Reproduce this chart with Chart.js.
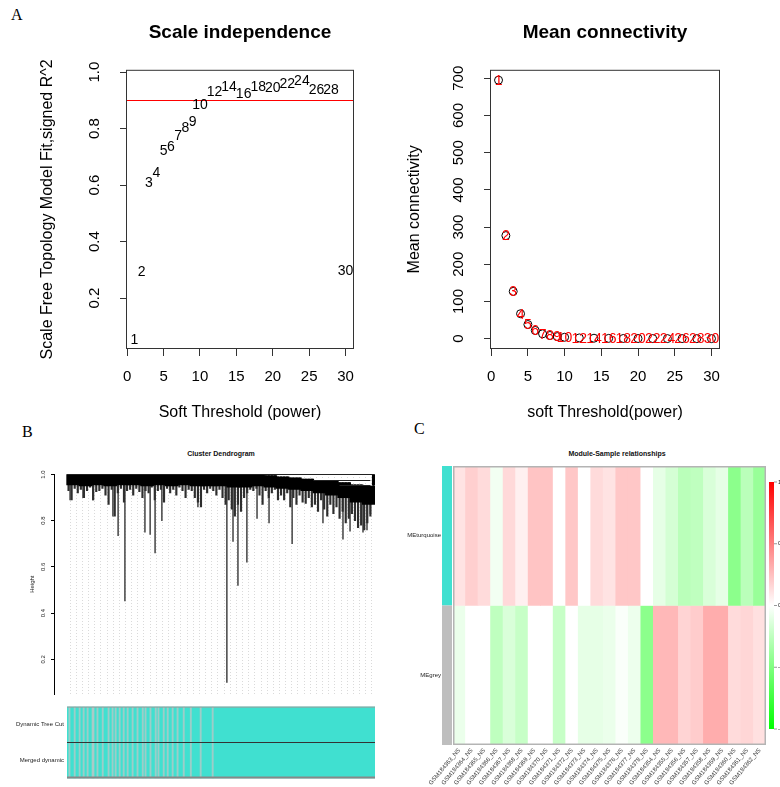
<!DOCTYPE html>
<html>
<head>
<meta charset="utf-8">
<title>WGCNA network construction</title>
<script src="https://cdn.jsdelivr.net/npm/chart.js@4"></script>
<style>
  body { margin: 0; background: #fff; }
  #page { position: relative; width: 780px; height: 787px; overflow: hidden; font-family: "Liberation Sans", Arial, sans-serif; }
  canvas { position: absolute; }
  .tag { position: absolute; font-family: "Liberation Serif", "Times New Roman", serif; font-size: 16px; line-height: 16px; color: #000; }
  .mini-title { position: absolute; font-weight: bold; font-size: 7px; line-height: 8px; transform: translateX(-50%); white-space: nowrap; color: #111; }
</style>
</head>
<body>
<div id="page">
  <div class="tag" style="left:11px; top:7px;">A</div>
  <div class="tag" style="left:22px; top:424px;">B</div>
  <div class="tag" style="left:414px; top:421px;">C</div>
  <div class="mini-title" style="left:221px; top:450px;">Cluster Dendrogram</div>
  <div class="mini-title" style="left:617px; top:450px;">Module-Sample relationships</div>

  <canvas id="scaleFit" width="390" height="430" style="left:0; top:0;"></canvas>
  <canvas id="meanConn" width="390" height="430" style="left:390px; top:0;"></canvas>
  <canvas id="dendro" width="390" height="241" style="left:0; top:460px;"></canvas>
  <canvas id="colorRows" width="390" height="85" style="left:0; top:700px;"></canvas>
  <canvas id="heat" width="380" height="347" style="left:400px; top:440px;"></canvas>
</div>

<script>
// ---- soft threshold scan ----
const powers = [1, 2, 3, 4, 5, 6, 7, 8, 9, 10, 12, 14, 16, 18, 20, 22, 24, 26, 28, 30];
const fitR2 = [0.056, 0.296, 0.609, 0.646, 0.722, 0.739, 0.777, 0.806, 0.828, 0.885,
               0.933, 0.950, 0.926, 0.950, 0.947, 0.961, 0.971, 0.941, 0.938, 0.299];
const meanK = [695, 277, 127, 67, 38, 22, 13, 8.5, 5.5, 3.8,
               2.0, 1.2, 0.8, 0.5, 0.35, 0.25, 0.2, 0.15, 0.1, 0.08];
const r2Cutoff = 0.9;
const powerTicks = [0, 5, 10, 15, 20, 25, 30];
const r2Ticks = [0.2, 0.4, 0.6, 0.8, 1.0];
const kTicks = [0, 100, 200, 300, 400, 500, 600, 700];

// ---- gene dendrogram (leaf order 0..100) ----
const heightTicks = [0.2, 0.4, 0.6, 0.8, 1.0];
// solid upper mass per block of 4 leaves: [lower edge, upper edge]
const coreBand = [
  [0.955, 1], [0.95, 1], [0.955, 1], [0.95, 1], [0.955, 1], [0.955, 1], [0.95, 1], [0.955, 1],
  [0.95, 1], [0.955, 1], [0.95, 1], [0.95, 1], [0.95, 1], [0.945, 1], [0.945, 1], [0.95, 1],
  [0.945, 0.995], [0.94, 0.99], [0.935, 0.985], [0.93, 0.98], [0.92, 0.975], [0.91, 0.97],
  [0.90, 0.965], [0.88, 0.955], [0.87, 0.95]
];
// lowest tip of the branches under each leaf
const branchLow = [
  0.93, 0.89, 0.94, 0.92, 0.935, 0.90, 0.93, 0.945, 0.89, 0.925,
  0.93, 0.94, 0.91, 0.87, 0.935, 0.82, 0.92, 0.94, 0.88, 0.93,
  0.935, 0.91, 0.94, 0.925, 0.90, 0.93, 0.92, 0.945, 0.89, 0.93,
  0.935, 0.88, 0.94, 0.92, 0.935, 0.91, 0.945, 0.93, 0.90, 0.935,
  0.93, 0.90, 0.88, 0.86, 0.935, 0.92, 0.94, 0.93, 0.91, 0.935,
  0.90, 0.87, 0.89, 0.85, 0.82, 0.87, 0.84, 0.90, 0.92, 0.935,
  0.93, 0.94, 0.91, 0.87, 0.93, 0.90, 0.92, 0.935, 0.89, 0.91,
  0.89, 0.92, 0.86, 0.90, 0.87, 0.91, 0.88, 0.875, 0.90, 0.86,
  0.87, 0.84, 0.89, 0.85, 0.82, 0.87, 0.83, 0.86, 0.81, 0.84,
  0.79, 0.81, 0.83, 0.80, 0.77, 0.78, 0.76, 0.79, 0.82, 0.955
];
// single long branches: [leaf position, merge height]
const dendroSpikes = [
  [1.0, 0.89], [5.2, 0.90], [8.4, 0.89], [14.9, 0.82], [16.6, 0.735], [18.8, 0.453],
  [25.3, 0.75], [27.0, 0.74], [28.6, 0.66], [30.8, 0.80], [42.5, 0.86], [51.9, 0.10],
  [53.9, 0.71], [55.5, 0.52], [58.4, 0.62], [61.7, 0.81], [65.6, 0.79], [73.1, 0.70],
  [83.1, 0.79], [89.6, 0.72], [91.9, 0.755], [96.1, 0.75], [97.4, 0.76], [98.5, 0.83]
];
// horizontal merges: [from leaf, to leaf, height]
const dendroLinks = [[0, 99.7, 1.0], [80, 98.5, 0.975], [88.5, 98.5, 0.955]];
const terminalBranch = [99.6, 0.955, 1.0];

// ---- module colour rows ----
const colorRowNames = ['Dynamic Tree Cut', 'Merged dynamic'];
const greyStripes = [0.6, 2.3, 3.9, 5.2, 6.5, 8.1, 8.4, 9.7, 11.4, 13.3, 14.6, 15.6, 16.9, 18.2, 19.5,
                     21.1, 22.7, 24.4, 25.3, 26.9, 28.6, 29.5, 31.2, 32.5, 34.1, 35.7, 37.7, 40.0, 43.2, 47.1];

// ---- module / sample correlation ----
const sampleNames = ['GSM184363_NS', 'GSM184364_NS', 'GSM184365_NS', 'GSM184366_NS', 'GSM184367_NS',
  'GSM184368_NS', 'GSM184369_NS', 'GSM184370_NS', 'GSM184371_NS', 'GSM184372_NS', 'GSM184373_NS',
  'GSM184374_NS', 'GSM184375_NS', 'GSM184376_NS', 'GSM184377_NS', 'GSM184378_NS', 'GSM184354_NS',
  'GSM184355_NS', 'GSM184356_NS', 'GSM184357_NS', 'GSM184358_NS', 'GSM184359_NS', 'GSM184360_NS',
  'GSM184361_NS', 'GSM184362_NS'];
const rowNames = ['MEturquoise', 'MEgrey'];
const rowColors = ['#40E0D0', '#BEBEBE'];
const meTurquoise = [0.11, 0.19, 0.14, -0.05, 0.15, 0.06, 0.23, 0.23, 0, 0.22, 0, 0.14, 0.11,
                     0.22, 0.22, 0, -0.1, -0.17, -0.27, -0.25, -0.15, -0.1, -0.45, -0.27, -0.4];
const meGrey = [-0.08, 0, 0, -0.25, -0.15, -0.22, 0, 0, -0.22, 0, -0.1, -0.1, -0.08,
                -0.02, -0.07, -0.45, 0.28, 0.28, 0.17, 0.2, 0.32, 0.32, 0.14, 0.16, 0.12];
const keyTicks = [1, 0.5, 0, -0.5, -1];

Chart.defaults.font.family = '"Liberation Sans", Arial, Helvetica, sans-serif';
Chart.defaults.color = '#000';
Chart.defaults.animation = false;
Chart.defaults.plugins.legend.display = false;
Chart.defaults.plugins.tooltip.enabled = false;

const fixedTicks = values => scale => { scale.ticks = values.map(v => ({ value: v })); };
const fixedWidth = w => scale => { scale.width = w; };
const fixedHeight = h => scale => { scale.height = h; };

// green - white - red, as in greenWhiteRed()
function corColor(v) {
  const c = Math.round(255 * (1 - Math.abs(v)));
  return v >= 0 ? `rgb(255,${c},${c})` : `rgb(${c},255,${c})`;
}

const frame = {
  id: 'frame',
  afterDatasetsDraw(chart, args, opts) {
    const { ctx, chartArea: a } = chart;
    ctx.save();
    ctx.strokeStyle = opts.color || '#333';
    ctx.lineWidth = opts.width || 1;
    ctx.strokeRect(a.left + 0.5, a.top + 0.5, a.width - 1, a.height - 1);
    ctx.restore();
  }
};

const cutoffLine = {
  id: 'cutoffLine',
  afterDatasetsDraw(chart, args, opts) {
    const { ctx, chartArea: a, scales: { y } } = chart;
    const py = Math.round(y.getPixelForValue(opts.value)) + 0.5;
    ctx.save();
    ctx.strokeStyle = '#FF0000';
    ctx.lineWidth = 1;
    ctx.beginPath();
    ctx.moveTo(a.left, py);
    ctx.lineTo(a.right, py);
    ctx.stroke();
    ctx.restore();
  }
};

// power numbers written at each point
const powerLabels = {
  id: 'powerLabels',
  afterDatasetsDraw(chart, args, opts) {
    const { ctx } = chart;
    const meta = chart.getDatasetMeta(0);
    ctx.save();
    ctx.font = '14px "Liberation Sans", Arial, sans-serif';
    ctx.fillStyle = opts.color;
    ctx.textAlign = 'center';
    ctx.textBaseline = 'middle';
    meta.data.forEach((el, i) => ctx.fillText(String(powers[i]), el.x, el.y + 1));
    ctx.restore();
  }
};

const axisX = (title, pad) => ({
  min: -0.16, max: 31.16,
  afterBuildTicks: fixedTicks(powerTicks),
  afterFit: fixedHeight(81),
  ticks: { font: { size: 15 }, padding: 12, maxRotation: 0 },
  grid: { drawOnChartArea: false, tickLength: 7, color: '#333' },
  border: { display: false },
  title: { display: true, text: title, font: { size: 16 }, padding: { top: 0, bottom: pad } }
});

// Scale independence
new Chart(document.getElementById('scaleFit'), {
  type: 'scatter',
  data: { datasets: [{ data: powers.map((p, i) => ({ x: p, y: fitR2[i] })), pointRadius: 0 }] },
  options: {
    responsive: false,
    layout: { padding: { top: 0, right: 36, bottom: 0, left: 0 } },
    plugins: {
      title: { display: true, text: 'Scale independence', fullSize: false, color: '#000',
               font: { size: 19, weight: 'bold' }, padding: { top: 21, bottom: 26 } },
      cutoffLine: { value: r2Cutoff },
      powerLabels: { color: '#000' },
      frame: { color: '#333' }
    },
    scales: {
      x: axisX('Soft Threshold (power)', 8),
      y: {
        min: 0.02, max: 1.008,
        afterBuildTicks: fixedTicks(r2Ticks),
        afterFit: fixedWidth(126),
        ticks: { font: { size: 15 }, padding: 15, minRotation: 90, maxRotation: 90, crossAlign: 'center',
                 callback: v => v.toFixed(1) },
        grid: { drawOnChartArea: false, tickLength: 6, color: '#333' },
        border: { display: false },
        title: { display: true, text: 'Scale Free Topology Model Fit,signed R^2', font: { size: 16 },
                 padding: { top: 38, bottom: 0 } }
      }
    }
  },
  plugins: [cutoffLine, powerLabels, frame]
});

// Mean connectivity
new Chart(document.getElementById('meanConn'), {
  type: 'scatter',
  data: { datasets: [{ data: powers.map((p, i) => ({ x: p, y: meanK[i] })),
                       pointRadius: 4, pointBorderColor: '#000', pointBorderWidth: 1,
                       pointBackgroundColor: 'rgba(0,0,0,0)' }] },
  options: {
    responsive: false,
    layout: { padding: { top: 0, right: 60, bottom: 0, left: 0 } },
    plugins: {
      title: { display: true, text: 'Mean connectivity', fullSize: false, color: '#000',
               font: { size: 19, weight: 'bold' }, padding: { top: 21, bottom: 26 } },
      powerLabels: { color: '#FF0000' },
      frame: { color: '#333' }
    },
    scales: {
      x: axisX('soft Threshold(power)', 8),
      y: {
        min: -27.8, max: 722.8,
        afterBuildTicks: fixedTicks(kTicks),
        afterFit: fixedWidth(100),
        ticks: { font: { size: 15 }, padding: 13, minRotation: 90, maxRotation: 90, crossAlign: 'center' },
        grid: { drawOnChartArea: false, tickLength: 6, color: '#333' },
        border: { display: false },
        title: { display: true, text: 'Mean connectivity', font: { size: 16 }, padding: { top: 15, bottom: 0 } }
      }
    }
  },
  plugins: [powerLabels, frame]
});

// Cluster dendrogram
const linkLines = {
  id: 'linkLines',
  afterDatasetsDraw(chart) {
    const { ctx, scales: { x, y } } = chart;
    ctx.save();
    ctx.strokeStyle = '#222';
    ctx.lineWidth = 1;
    dendroLinks.forEach(([from, to, h]) => {
      const py = Math.round(y.getPixelForValue(h)) + 0.5;
      ctx.beginPath();
      ctx.moveTo(x.getPixelForValue(from), py);
      ctx.lineTo(x.getPixelForValue(to), py);
      ctx.stroke();
    });
    ctx.restore();
  }
};

const guideLeaves = [];
for (let g = 1; g < 100; g += 2) guideLeaves.push(g);

// dataset 0 is painted last, so the solid mass sits over the thin branches
new Chart(document.getElementById('dendro'), {
  type: 'bar',
  data: {
    datasets: [
      { data: coreBand.map((b, k) => ({ x: 4 * k + 2, y: b })),
        backgroundColor: '#000', barThickness: 13, grouped: false },
      { data: [{ x: terminalBranch[0], y: [terminalBranch[1], terminalBranch[2]] }],
        backgroundColor: '#000', barThickness: 3, grouped: false },
      { data: branchLow.map((low, i) => ({ x: i + 0.5, y: [low, coreBand[Math.floor(i / 4)][1]] })),
        backgroundColor: '#2e2e2e', barThickness: 1.5, grouped: false },
      { data: dendroSpikes.map(([leaf, h]) => ({ x: leaf, y: [h, coreBand[Math.floor(leaf / 4)][1] - 0.01] })),
        backgroundColor: '#555', barThickness: 1, grouped: false }
    ]
  },
  options: {
    responsive: false,
    layout: { padding: { top: 14, right: 15, bottom: 1, left: 0 } },
    scales: {
      x: {
        type: 'linear', min: -4.22, max: 100, offset: false,
        afterBuildTicks: fixedTicks(guideLeaves),
        afterFit: fixedHeight(0),
        ticks: { display: false },
        grid: { offset: false, drawTicks: false, color: '#dadada', lineWidth: 1 },
        border: { display: false, dash: [1, 2] }
      },
      y: {
        min: 0.048, max: 1.002,
        afterBuildTicks: fixedTicks(heightTicks),
        afterFit: fixedWidth(54),
        ticks: { font: { size: 6 }, padding: 3, minRotation: 90, maxRotation: 90, crossAlign: 'center',
                 color: '#222', callback: v => v.toFixed(1) },
        grid: { drawOnChartArea: false, tickLength: 3, color: '#000' },
        border: { display: true, color: '#000', width: 1 },
        title: { display: true, text: 'Height', font: { size: 6 }, color: '#222', padding: { top: 29, bottom: 0 } }
      }
    }
  },
  plugins: [linkLines]
});

// Dynamic tree cut / merged module colours
const rowFrame = {
  id: 'rowFrame',
  afterDatasetsDraw(chart) {
    const { ctx, chartArea: a } = chart;
    const mid = Math.round((a.top + a.bottom) / 2) + 0.5;
    ctx.save();
    ctx.lineWidth = 1;
    ctx.strokeStyle = '#9a9a9a';
    ctx.beginPath(); ctx.moveTo(a.left, a.top + 0.5); ctx.lineTo(a.right, a.top + 0.5); ctx.stroke();
    ctx.strokeStyle = '#333';
    ctx.beginPath(); ctx.moveTo(a.left, mid); ctx.lineTo(a.right, mid); ctx.stroke();
    ctx.lineWidth = 2;
    ctx.strokeStyle = '#888';
    ctx.beginPath(); ctx.moveTo(a.left, a.bottom - 1); ctx.lineTo(a.right, a.bottom - 1); ctx.stroke();
    ctx.restore();
  }
};

new Chart(document.getElementById('colorRows'), {
  type: 'bar',
  data: {
    labels: colorRowNames,
    datasets: [
      { data: colorRowNames.flatMap(r => greyStripes.map(p => ({ y: r, x: [p, p + 0.4] }))),
        backgroundColor: 'rgba(196,196,196,0.7)', grouped: false, barPercentage: 1, categoryPercentage: 1 },
      { data: colorRowNames.map(r => ({ y: r, x: [0, 100] })), backgroundColor: '#40E0D0',
        grouped: false, barPercentage: 1, categoryPercentage: 1 }
    ]
  },
  options: {
    indexAxis: 'y',
    responsive: false,
    layout: { padding: { top: 3, right: 15, bottom: 5, left: 0 } },
    scales: {
      x: { type: 'linear', min: 0, max: 100, display: false, offset: false },
      y: { afterFit: fixedWidth(67), ticks: { font: { size: 6 }, padding: 3, color: '#222' },
           grid: { display: false, drawTicks: false }, border: { display: false } }
    }
  },
  plugins: [rowFrame]
});

// Module-sample heatmap with module strip and colour key
const heatDecor = {
  id: 'heatDecor',
  afterDatasetsDraw(chart) {
    const { ctx, chartArea: a, scales: { y } } = chart;
    ctx.save();
    rowNames.forEach((name, r) => {
      const top = y.getPixelForValue(2 - r);
      const bottom = y.getPixelForValue(1 - r);
      ctx.fillStyle = rowColors[r];
      ctx.fillRect(a.left - 11, top, 10, bottom - top);
    });
    ctx.strokeStyle = '#b4b4b4';
    ctx.lineWidth = 1.5;
    ctx.strokeRect(a.left + 0.75, a.top + 0.75, a.width - 1.5, a.height - 1.5);

    const kx = a.right + 3, kTop = a.top + 16, kBottom = a.bottom - 16;
    const grad = ctx.createLinearGradient(0, kTop, 0, kBottom);
    grad.addColorStop(0, corColor(1));
    grad.addColorStop(0.5, corColor(0));
    grad.addColorStop(1, corColor(-1));
    ctx.fillStyle = grad;
    ctx.fillRect(kx, kTop, 5, kBottom - kTop);
    ctx.strokeStyle = '#999';
    ctx.lineWidth = 1;
    ctx.font = '6px "Liberation Sans", Arial, sans-serif';
    ctx.fillStyle = '#222';
    ctx.textBaseline = 'middle';
    keyTicks.forEach(t => {
      const ty = kTop + (1 - t) / 2 * (kBottom - kTop);
      ctx.beginPath(); ctx.moveTo(kx + 5, ty); ctx.lineTo(kx + 8, ty); ctx.stroke();
      ctx.fillText(String(t), kx + 9, ty);
    });
    ctx.restore();
  }
};

new Chart(document.getElementById('heat'), {
  type: 'bar',
  data: {
    labels: sampleNames,
    datasets: [
      { label: rowNames[0], data: sampleNames.map(() => [1, 2]), backgroundColor: meTurquoise.map(corColor),
        grouped: false, barPercentage: 1, categoryPercentage: 1, borderWidth: 0 },
      { label: rowNames[1], data: sampleNames.map(() => [0, 1]), backgroundColor: meGrey.map(corColor),
        grouped: false, barPercentage: 1, categoryPercentage: 1, borderWidth: 0 }
    ]
  },
  options: {
    responsive: false,
    layout: { padding: { top: 26, right: 14, bottom: 0, left: 0 } },
    scales: {
      x: { afterFit: fixedHeight(42),
           ticks: { font: { size: 6 }, minRotation: 50, maxRotation: 50, autoSkip: false, padding: 2, color: '#333' },
           grid: { display: false, drawTicks: false }, border: { display: false } },
      y: { min: 0, max: 2,
           afterBuildTicks: fixedTicks([0.5, 1.5]),
           afterFit: fixedWidth(53),
           ticks: { font: { size: 6 }, padding: 12, color: '#222', callback: v => (v > 1 ? rowNames[0] : rowNames[1]) },
           grid: { display: false, drawTicks: false }, border: { display: false } }
    }
  },
  plugins: [heatDecor]
});
</script>
</body>
</html>
